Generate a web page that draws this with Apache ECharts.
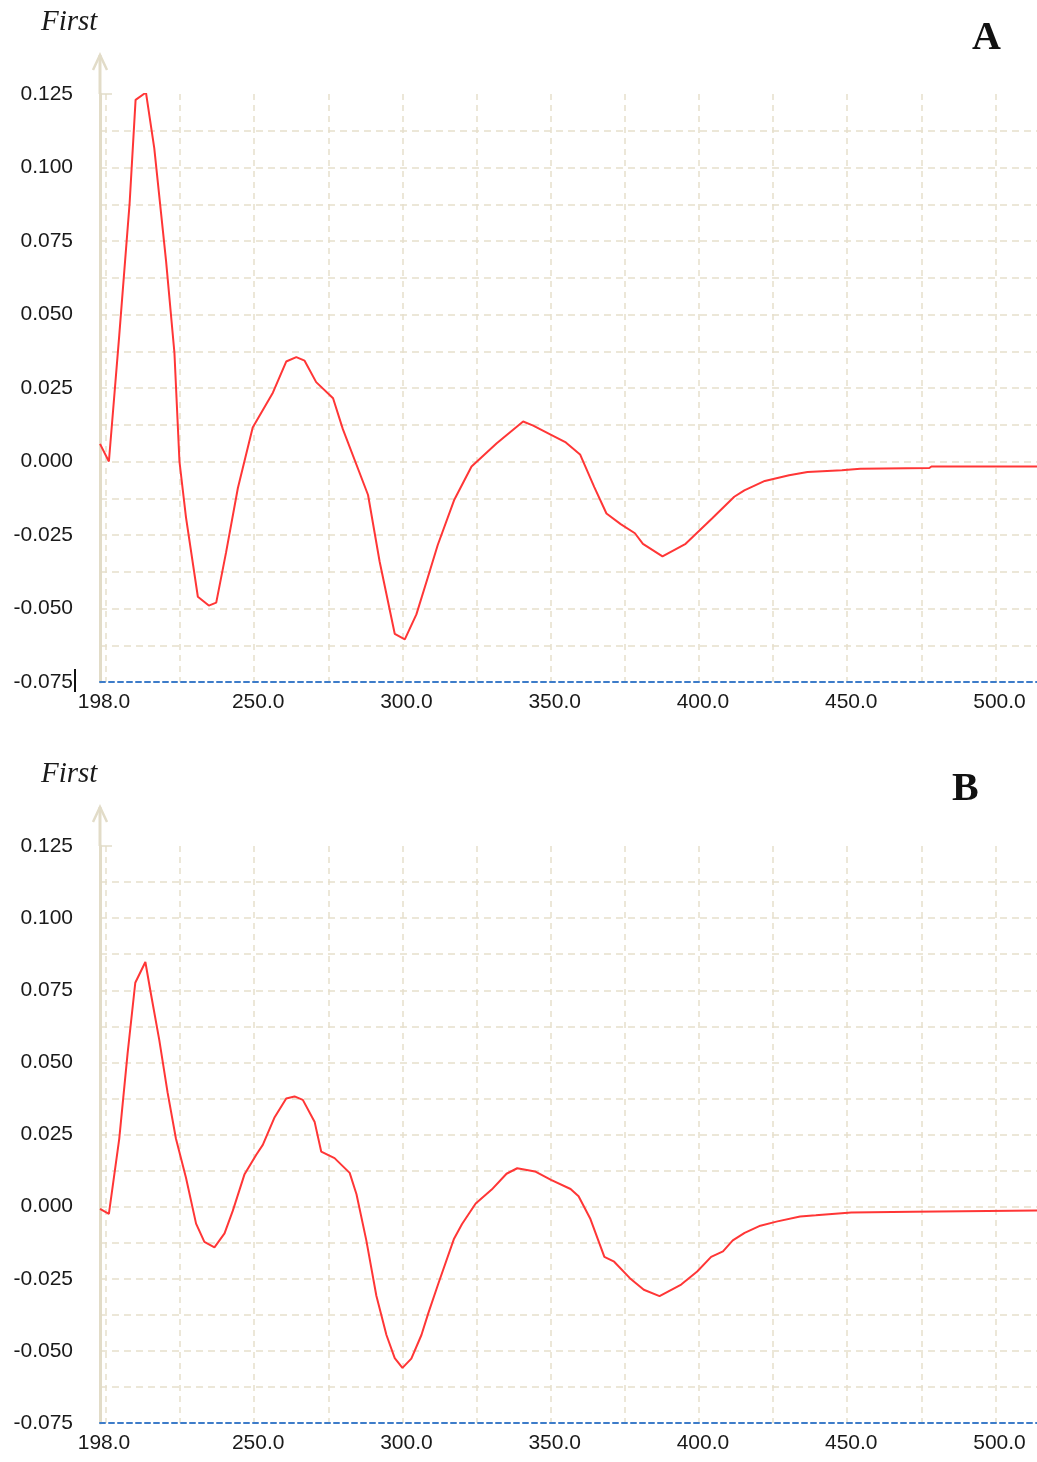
<!DOCTYPE html>
<html>
<head>
<meta charset="utf-8">
<script src="https://cdn.jsdelivr.net/npm/echarts@6/dist/echarts.min.js"></script>
<style>
  html, body { margin: 0; padding: 0; background: #ffffff; }
  #chart { width: 1037px; height: 1462px; }
</style>
</head>
<body>
<div id="chart"></div>
<script>
// First-derivative spectra, panel A (wavelength in nm)
const wavelengthA = [198, 201, 204.5, 208, 210, 213.5, 216.3, 220.3, 223.1, 224.8, 227, 231, 234.7, 237.2,
  240.5, 244.5, 249.5, 256.3, 260.8, 264.2, 267, 270.9, 276.6, 279.9, 288.4, 292.3, 297.4, 300.8, 304.7,
  308.5, 311.9, 317.4, 323.3, 331.8, 340.7, 344.1, 350.3, 355.1, 359.9, 364.7, 368.8, 373.6, 378.4, 381.1,
  387.7, 395.5, 404.4, 411.9, 415.3, 422.2, 430.4, 436.6, 448.2, 454.4, 477.7, 478.4, 514];
const firstA = [0.006, 0.000, 0.043, 0.088, 0.123, 0.1255, 0.1066, 0.068, 0.037, 0.000, -0.019, -0.046, -0.049, -0.048,
  -0.031, -0.009, 0.0116, 0.0234, 0.034, 0.0355, 0.0343, 0.027, 0.0215, 0.011, -0.0114, -0.034, -0.0586, -0.0605, -0.052,
  -0.0396, -0.0284, -0.0132, -0.0017, 0.0062, 0.0136, 0.0122, 0.009, 0.0065, 0.0024, -0.0087, -0.0177, -0.0213, -0.0244, -0.028,
  -0.0323, -0.028, -0.0194, -0.012, -0.0098, -0.0066, -0.0047, -0.0036, -0.003, -0.0025, -0.0022, -0.0017, -0.0017];

// First-derivative spectra, panel B
const wavelengthB = [198, 201, 204.5, 207.3, 209.9, 213.3, 215.2, 218, 220.8, 223.6, 227, 230.4, 233.2, 236.6,
  240, 242.8, 246.7, 250.7, 252.9, 256.9, 260.8, 263.6, 266.4, 270.4, 272.6, 277.1, 282.2, 284.5, 287.8,
  291.2, 294.6, 297.4, 300, 303, 306.4, 308.7, 312, 317.4, 320.1, 324.7, 330.1, 335.1, 338.7, 344.7,
  350.1, 356.7, 359.4, 363.4, 368.1, 371.4, 376.7, 381.4, 386.7, 394, 399.4, 404.1, 408.1, 411.4,
  415.4, 420.7, 426.1, 434.1, 439.4, 451.4, 472.1, 472.7, 514];
const firstB = [-0.0008, -0.0025, 0.0236, 0.053, 0.0776, 0.0848, 0.0736, 0.0577, 0.0395, 0.0236, 0.010, -0.0059, -0.0122, -0.0141,
  -0.0093, -0.0014, 0.0111, 0.018, 0.0214, 0.031, 0.0375, 0.0382, 0.037, 0.0293, 0.0191, 0.0168, 0.0117, 0.0043, -0.0116,
  -0.0309, -0.0445, -0.0525, -0.0559, -0.0527, -0.0445, -0.037, -0.027, -0.0111, -0.006, 0.0011, 0.0059, 0.0114, 0.0133, 0.0122,
  0.0093, 0.0061, 0.0036, -0.0043, -0.0174, -0.0191, -0.0248, -0.0288, -0.031, -0.027, -0.0225, -0.0174, -0.0155, -0.0117,
  -0.0091, -0.0066, -0.0052, -0.0034, -0.003, -0.002, -0.0018, -0.0013, -0.0013];

// Axis ticks
const xLabelValues = [198, 250, 300, 350, 400, 450, 500];
const xGridValues = [200, 225, 250, 275, 300, 325, 350, 375, 400, 425, 450, 475, 500];
const xMin = 198, xMax = 514;
const yMin = -0.075, yMax = 0.125, yStep = 0.0125;
const panelNames = ['A', 'B'];
const axisName = 'First';

const gridColor = '#e6e0cc';
const axisColor = '#e2dcc8';
const labelFont = { fontFamily: 'Liberation Sans', fontSize: 21, color: '#1a1a1a' };

const pairs = (xs, ys) => xs.map((x, i) => [x, ys[i]]);

function xAxisFor(gridIndex) {
  return {
    type: 'value', gridIndex, min: xMin, max: xMax,
    axisLine: { show: true, onZero: false, lineStyle: { color: '#3d7cc9', width: 2, type: [5, 4] } },
    axisTick: { show: false, customValues: xGridValues },
    axisLabel: Object.assign({
      customValues: xLabelValues, margin: 10, padding: [0, 0, 0, 8],
      formatter: v => v.toFixed(1)
    }, labelFont),
    splitLine: { show: true, lineStyle: { color: gridColor, width: 1.5, type: [6, 5] } }
  };
}

function yAxisFor(gridIndex) {
  return {
    type: 'value', gridIndex, min: yMin, max: yMax, interval: yStep,
    axisLine: { show: true, onZero: false, lineStyle: { color: axisColor, width: 3 } },
    axisTick: { show: false },
    axisLabel: Object.assign({
      margin: 27, padding: [3, 0, 0, 0],
      formatter: v => {
        const k = Math.round(v / yStep);
        if (k % 2 !== 0) return '';
        return Math.abs(v) < 1e-9 ? '0.000' : v.toFixed(3);
      }
    }, labelFont),
    splitLine: { show: true, showMaxLine: false, showMinLine: false,
      lineStyle: { color: gridColor, width: 1.5, type: [7, 5] } }
  };
}

const titleStyle = { fontFamily: 'Liberation Serif', fontStyle: 'italic', fontWeight: 'normal', fontSize: 29, color: '#1a1a1a' };
const panelStyle = { fontFamily: 'Liberation Serif', fontWeight: 'bold', fontSize: 40, color: '#111111' };

const chart = echarts.init(document.getElementById('chart'), null, { renderer: 'canvas' });
chart.setOption({
  backgroundColor: '#ffffff',
  animation: false,
  title: [
    { text: axisName, left: 41, top: 8, padding: 0, textStyle: titleStyle },
    { text: panelNames[0], left: 972, top: 19, padding: 0, textStyle: panelStyle },
    { text: axisName, left: 41, top: 760, padding: 0, textStyle: titleStyle },
    { text: panelNames[1], left: 952, top: 770, padding: 0, textStyle: panelStyle }
  ],
  grid: [
    { left: 100, top: 94, width: 937, height: 588, containLabel: false },
    { left: 100, top: 846, width: 937, height: 577, containLabel: false }
  ],
  xAxis: [xAxisFor(0), xAxisFor(1)],
  yAxis: [yAxisFor(0), yAxisFor(1)],
  series: [
    { type: 'line', xAxisIndex: 0, yAxisIndex: 0, data: pairs(wavelengthA, firstA),
      showSymbol: false, smooth: false, lineStyle: { color: '#ff3636', width: 2 } },
    { type: 'line', xAxisIndex: 1, yAxisIndex: 1, data: pairs(wavelengthB, firstB),
      showSymbol: false, smooth: false, lineStyle: { color: '#ff3636', width: 2 } }
  ]
});

// Y-axis extension with open arrowhead above each plot, plus the top tick
const deco = [];
[0, 1].forEach(g => {
  const top = chart.convertToPixel({ gridIndex: g }, [xMin, yMax]);
  const ax = Math.round(top[0]), ay = top[1];
  deco.push({ type: 'line', shape: { x1: ax, y1: ay, x2: ax, y2: ay - 39 },
    style: { stroke: axisColor, lineWidth: 3 }, z: 10 });
  deco.push({ type: 'polyline', shape: { points: [[ax - 7, ay - 24], [ax, ay - 39], [ax + 7, ay - 24]] },
    style: { stroke: axisColor, lineWidth: 2.5, fill: null }, z: 10 });
  deco.push({ type: 'line', shape: { x1: ax, y1: ay, x2: ax + 12, y2: ay },
    style: { stroke: axisColor, lineWidth: 1.5 }, z: 10 });
});
// Text cursor left beside the bottom label of panel A
const low = chart.convertToPixel({ gridIndex: 0 }, [xMin, yMin]);
deco.push({ type: 'rect', shape: { x: 74, y: low[1] - 13, width: 2, height: 23 },
  style: { fill: '#111111' }, z: 10 });
chart.setOption({ graphic: deco });
</script>
</body>
</html>
